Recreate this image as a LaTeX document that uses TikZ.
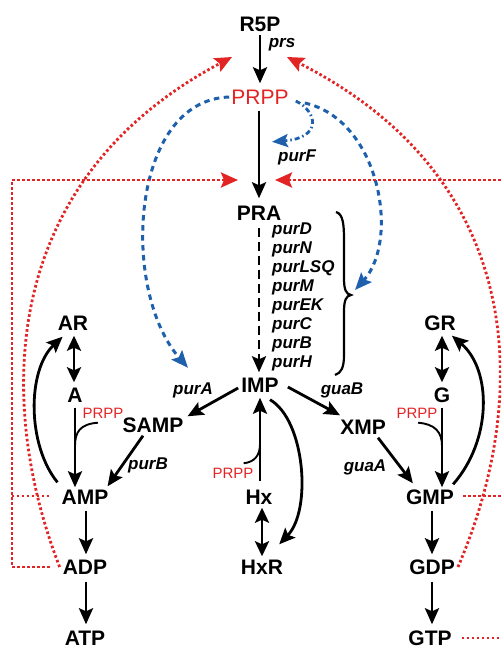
\documentclass[tikz,border=0pt]{standalone}
\usepackage{fontspec}
\setmainfont{Liberation Sans}
\usetikzlibrary{arrows.meta,calc}
\definecolor{pred}{RGB}{226,36,36}
\definecolor{pblue}{RGB}{30,96,172}
\begin{document}
\begin{tikzpicture}[x=1pt,y=-1pt,
 met/.style={font=\fontsize{21}{21}\selectfont\bfseries, text height=15pt, text depth=0pt, inner sep=0pt},
 gene/.style={font=\fontsize{17}{17}\selectfont\bfseries\itshape, text height=12pt, text depth=0pt, inner sep=0pt},
 sprpp/.style={font=\fontsize{15}{15}\selectfont, text=pred, text height=11pt, text depth=0pt, inner sep=0pt},
 arr/.style={line width=2.8pt, -{Stealth[length=16pt,width=14pt,inset=3pt]}},
 darr/.style={line width=2.8pt, {Stealth[length=15pt,width=14pt,inset=3pt]}-{Stealth[length=15pt,width=14pt,inset=3pt]}},
 feed/.style={pred, line width=2.8pt, dash pattern=on 2.6pt off 2.4pt},
 feedarr/.style={feed, -{Stealth[length=17pt,width=15pt,inset=3pt]}},
 act/.style={pblue, line width=3pt, dash pattern=on 5.5pt off 4.5pt, -{Stealth[length=17pt,width=14pt,inset=3pt]}},
 joinline/.style={line width=1.9pt},
]
\useasboundingbox (0,0) rectangle (501,650);

% metabolites
\node[met] (R5P) at (260,24) {R5P};
\node[met, font=\fontsize{21}{21}\selectfont, text=pred] (PRPP) at (260,97) {PRPP};
\node[met] (PRA) at (259,213) {PRA};
\node[met] (IMP) at (260,385) {IMP};
\node[met] (SAMP) at (153,425) {SAMP};
\node[met] (XMP) at (363,427) {XMP};
\node[met] (AR) at (73,323) {AR};
\node[met] (A) at (75,395) {A};
\node[met] (GR) at (440,323) {GR};
\node[met] (G) at (442,395) {G};
\node[met] (AMP) at (85,497) {AMP};
\node[met] (Hx) at (259,497) {Hx};
\node[met] (GMP) at (430,497) {GMP};
\node[met] (ADP) at (85,567) {ADP};
\node[met] (HxR) at (262,567) {HxR};
\node[met] (GDP) at (432,567) {GDP};
\node[met] (ATP) at (85,638) {ATP};
\node[met] (GTP) at (430,638) {GTP};

% small PRPP
\node[sprpp] (sP1) at (103,413) {PRPP};
\node[sprpp] (sP2) at (233,473) {PRPP};
\node[sprpp] (sP3) at (417,413) {PRPP};

% genes
\node[gene] (prs) at (282,42) {prs};
\node[gene] (purF) at (297,155) {purF};
\node[gene, anchor=west] (purD) at (272,228) {purD};
\node[gene, anchor=west] (purN) at (272,247) {purN};
\node[gene, anchor=west] (purLSQ) at (272,266) {purLSQ};
\node[gene, anchor=west] (purM) at (272,285) {purM};
\node[gene, anchor=west] (purEK) at (272,304) {purEK};
\node[gene, anchor=west] (purC) at (272,323) {purC};
\node[gene, anchor=west] (purB1) at (272,342) {purB};
\node[gene, anchor=west] (purH) at (272,361) {purH};
\node[gene] (purA) at (193,388) {purA};
\node[gene] (guaB) at (342,388) {guaB};
\node[gene] (purB) at (148,463) {purB};
\node[gene] (guaA) at (365,465) {guaA};

% coordinates for connector ends
\coordinate (inL) at (232,57);
\coordinate (inR) at (287,57);
\coordinate (inTL) at (238,180);
\coordinate (inTR) at (275,180);
\coordinate (edgeTop) at (501,180);
\coordinate (edgeGMP) at (501,496);
\coordinate (edgeGTP) at (501,638);
\coordinate (brtip) at (351,295);

% brace
\draw[line width=2.2pt] (336,212) .. controls (343,214) and (344,224) .. (344,240) -- (344,278) .. controls (344,290) and (346,294) .. (brtip) .. controls (346,296) and (344,300) .. (344,312) -- (344,355) .. controls (344,368) and (341,373) .. (335,375);

% main pathway
\draw[arr] ($(R5P.south)+(0,3)$) -- ($(PRPP.north)+(0,-6)$);
\draw[arr] ($(PRPP.south)+(-1,6)$) -- ($(PRA.north)+(0,-7)$);
\draw[arr, dash pattern=on 9pt off 5pt] ($(PRA.south)+(0,7)$) -- ($(IMP.north)+(-1,-5)$);
\draw[arr] ($(IMP.west)+(-3,3)$) -- ($(SAMP.north east)+(4,-1)$);
\draw[arr] ($(IMP.east)+(9,2)$) -- ($(XMP.north west)+(0,-4)$);
\draw[arr] ($(SAMP.south)+(-10,3)$) -- ($(AMP.north east)+(-1,-3)$);
\draw[arr] ($(XMP.south)+(15,3)$) -- ($(GMP.north west)+(7,-6)$);

% adenine side
\draw[darr] ($(AR.south)+(1,5)$) -- ($(A.north)+(-1,-5)$);
\draw[arr] ($(A.south)+(0,5)$) -- ($(A.south |- AMP.north)+(0,-2)$);
\draw[joinline] ($(sP1.south)+(-5,4)$) .. controls (80,424) and (75,432) .. (75,446);
\draw[arr] ($(AMP.north west)+(-4,-7)$) .. controls (27,445) and (27,370) .. ($(AR.south west)+(5,6)$);
\draw[arr] ($(AMP.south)+(1,6)$) -- ($(ADP.north)+(1,-5)$);
\draw[arr] ($(ADP.south)+(1,7)$) -- ($(ATP.north)+(1,-6)$);

% guanine side
\draw[darr] ($(GR.south)+(2,5)$) -- ($(G.north)+(0,-5)$);
\draw[arr] ($(G.south)+(0,5)$) -- ($(G.south |- GMP.north)+(0,-2)$);
\draw[joinline] ($(sP3.south)+(1,4)$) .. controls (435,424) and (442,432) .. (442,446);
\draw[arr] ($(GMP.north east)+(-1,-5)$) .. controls (492,440) and (492,370) .. ($(GR.south east)+(-4,5)$);
\draw[arr] ($(GMP.south)+(2,6)$) -- ($(GDP.north)+(0,-5)$);
\draw[arr] ($(GDP.south)+(0,7)$) -- ($(GTP.north)+(2,-6)$);

% hypoxanthine
\draw[arr] ($(Hx.north)+(1,-8)$) -- ($(IMP.south)+(0,5)$);
\draw[joinline] ($(sP2.north east)+(-10,-4)$) .. controls (255,462) and (260,455) .. (260,444);
\draw[darr] ($(Hx.south)+(3,3)$) -- ($(HxR.north)+(0,-3)$);
\draw[arr] ($(IMP.south)+(10,7)$) .. controls (305,420) and (312,510) .. ($(HxR.north east)+(-4,-15)$);

% blue activation
\draw[act] ($(PRPP.west)+(-2,0)$) .. controls (130,100) and (120,290) .. ($(purA.north)+(-5,-14)$);
\draw[act] ($(PRPP.east)+(16,6)$) .. controls (380,120) and (400,240) .. ($(brtip)+(4,-5)$);
\draw[pblue, line width=2.8pt, dash pattern=on 5pt off 3pt on 1.5pt off 3pt, -{Stealth[length=16pt,width=13pt,inset=3pt]}] ($(PRPP.east)+(7,4)$) .. controls (318,112) and (322,138) .. ($(purF.north west)+(-6,-7)$);

% red feedback
\begin{scope}
\clip (0,0) rectangle (501,650);
\draw[feedarr] ($(ADP.west)+(-3,0)$) .. controls (-5,400) and (0,180) .. (inL);
\draw[feedarr] ($(GDP.east)+(3,0)$) .. controls (530,400) and (530,180) .. (inR);
\draw[feedarr] ($(ADP.west)+(-13,0)$) -| (12,180) -- (inTL);
\draw[feed] ($(AMP.west)+(-12,-1)$) -- (12,496);
\draw[feedarr] (edgeTop) -- (inTR);
\draw[feed] ($(GMP.east)+(9,-1)$) -- (edgeGMP);
\draw[feed] ($(GTP.east)+(10,0)$) -- (edgeGTP);
\end{scope}
\end{tikzpicture}
\end{document}
